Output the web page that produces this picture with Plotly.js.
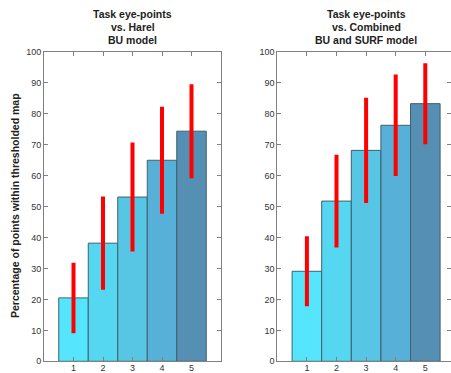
<!DOCTYPE html>
<html>
<head>
<meta charset="utf-8">
<script src="https://cdn.plot.ly/plotly-3.0.1.min.js"></script>
<style>html,body{margin:0;padding:0;background:#fff;}#chart{width:451px;height:373px;}</style>
</head>
<body>
<div id="chart"></div>
<script>
const categories = [1, 2, 3, 4, 5];
const harelMeans = [20.5, 38.2, 53.1, 65.0, 74.4];
const harelErr = [11.4, 15.1, 17.6, 17.3, 15.2];
const combinedMeans = [29.1, 51.8, 68.2, 76.3, 83.3];
const combinedErr = [11.3, 15.0, 17.0, 16.4, 13.1];
const leftTitle = ["Task eye-points", "vs. Harel", "BU model"];
const rightTitle = ["Task eye-points", "vs. Combined", "BU and SURF model"];
const yTitle = "Percentage of points within thresholded map";
const barColors = ["#55e6fe", "#55d6f1", "#57c6e5", "#56b0d8", "#558fb3"];

const FONT = "Liberation Sans, Arial, sans-serif";

function barTrace(vals, errs, xa, ya) {
  return {
    type: "bar", x: categories, y: vals, xaxis: xa, yaxis: ya,
    width: 1,
    marker: {color: barColors, line: {color: "#40606c", width: 1}},
    error_y: {type: "data", array: errs, visible: true, color: "#ff0000", thickness: 4, width: 0},
    hoverinfo: "none", showlegend: false
  };
}

const W = 451, H = 373;
const yBot = 1 - 361.3 / H, yTop = 1 - 52 / H;

const axisCommon = {
  showline: true, linecolor: "#808080", linewidth: 1, mirror: "ticks",
  ticks: "inside", ticklen: 4, tickcolor: "#808080",
  showgrid: false, zeroline: false,
  tickfont: {family: FONT, size: 9, color: "#333"}
};

const annotations = [];
function addTitle(lines, cx) {
  lines.forEach((t, i) => {
    annotations.push({
      text: "<b>" + t + "</b>", xref: "paper", yref: "paper",
      x: cx / W, y: 1 - (14 + i * 13) / H,
      xanchor: "center", yanchor: "middle", showarrow: false,
      font: {family: FONT, size: 10.5, color: "#222"}
    });
  });
}
addTitle(leftTitle, 132.5);
addTitle(rightTitle, 366);
annotations.push({
  text: "<b>" + yTitle + "</b>", xref: "paper", yref: "paper",
  x: 15 / W, y: 1 - 206 / H, textangle: -90,
  xanchor: "center", yanchor: "middle", showarrow: false,
  font: {family: FONT, size: 10.5, color: "#222"}
});

const layout = {
  width: W, height: H,
  margin: {l: 0, r: 0, t: 0, b: 0},
  paper_bgcolor: "#fff", plot_bgcolor: "#fff",
  bargap: 0,
  xaxis: Object.assign({}, axisCommon, {domain: [44 / W, 221 / W], range: [0, 6], tickvals: categories, anchor: "y", ticklabelstandoff: -2}),
  yaxis: Object.assign({}, axisCommon, {domain: [yBot, yTop], range: [0, 100], dtick: 10, anchor: "x"}),
  xaxis2: Object.assign({}, axisCommon, {domain: [277.3 / W, 1], range: [0, (451 - 277.3) / 29.6], tickvals: categories, anchor: "y2", ticklabelstandoff: -2}),
  yaxis2: Object.assign({}, axisCommon, {domain: [yBot, yTop], range: [0, 100], dtick: 10, anchor: "x2"}),
  annotations: annotations
};

Plotly.newPlot("chart", [
  barTrace(harelMeans, harelErr, "x", "y"),
  barTrace(combinedMeans, combinedErr, "x2", "y2")
], layout, {displayModeBar: false, staticPlot: true});
</script>
</body>
</html>
